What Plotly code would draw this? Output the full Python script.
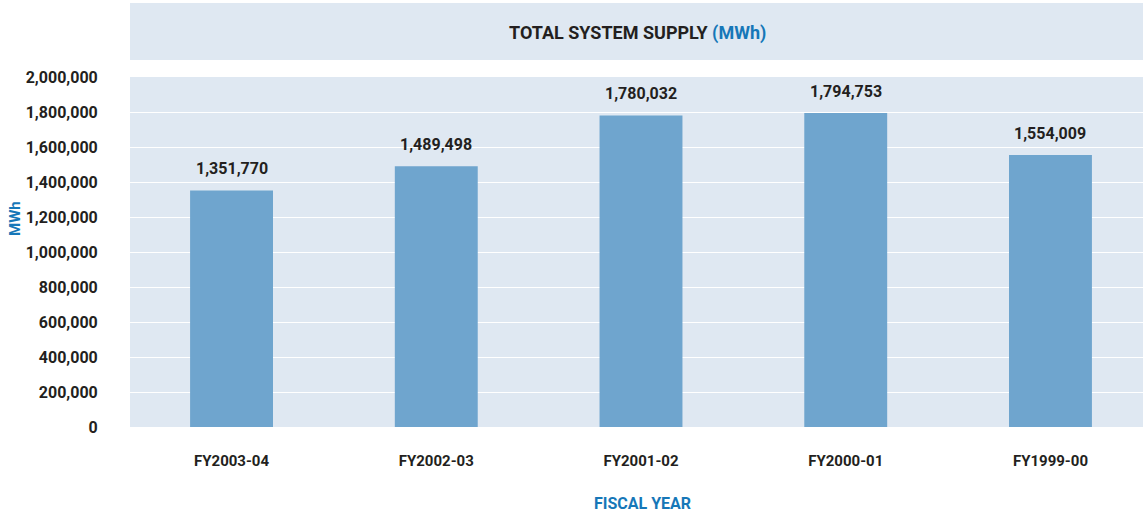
import plotly.graph_objects as go

categories = ["FY2003-04", "FY2002-03", "FY2001-02", "FY2000-01", "FY1999-00"]
supply_mwh = [1351770, 1489498, 1780032, 1794753, 1554009]
y_ticks = [0, 200000, 400000, 600000, 800000, 1000000, 1200000, 1400000, 1600000, 1800000, 2000000]
y_tick_labels = ["0", "200,000", "400,000", "600,000", "800,000", "1,000,000",
                 "1,200,000", "1,400,000", "1,600,000", "1,800,000", "2,000,000"]

FONT = "Roboto, Liberation Sans, sans-serif"
DARK = "#231f20"
BLUE = "#1677b8"
BAND = "#dfe8f2"
BAR = "#6fa5ce"

fig = go.Figure()
fig.add_trace(go.Bar(
    x=categories, y=supply_mwh, marker=dict(color=BAR, line=dict(width=0)),
    hoverinfo="x+y",
))

for c, v in zip(categories, supply_mwh):
    fig.add_annotation(x=c, y=v, text=f"<b>{v:,}</b>", showarrow=False, yanchor="bottom",
                       yshift=10, font=dict(family=FONT, size=16, color=DARK))

# title band
fig.add_shape(type="rect", xref="paper", yref="paper", x0=0, x1=1,
              y0=(427 - 60) / 350, y1=(427 - 3) / 350, fillcolor=BAND, line=dict(width=0), layer="below")
fig.add_annotation(xref="paper", yref="paper", x=(637 - 130) / 1013, y=(427 - 33) / 350, showarrow=False,
                   xanchor="center", yanchor="middle",
                   text=f"<b>TOTAL SYSTEM SUPPLY <span style='color:{BLUE}'>(MWh)</span></b>",
                   font=dict(family=FONT, size=18, color=DARK))
# axis titles
fig.add_annotation(xref="paper", yref="paper", x=(642 - 130) / 1013, y=(427 - 503) / 350, showarrow=False,
                   xanchor="center", yanchor="middle",
                   text="<b>FISCAL YEAR</b>", font=dict(family=FONT, size=16, color=BLUE))
fig.add_annotation(xref="paper", yref="paper", x=(15 - 130) / 1013, y=(427 - 219) / 350,
                   showarrow=False, textangle=-90, xanchor="center", yanchor="middle",
                   text="<b>MWh</b>", font=dict(family=FONT, size=15, color=BLUE))

fig.update_layout(
    width=1143, height=516,
    margin=dict(l=130, r=0, t=77, b=89),
    paper_bgcolor="white", plot_bgcolor=BAND,
    bargap=0.595, showlegend=False,
    font=dict(family=FONT, color=DARK),
    xaxis=dict(range=[-0.496, 4.452], showgrid=False, zeroline=False, showline=False,
               ticks="outside", ticklen=20, tickcolor="rgba(0,0,0,0)",
               tickfont=dict(family=FONT, size=15, color=DARK), tickprefix="<b>", ticksuffix="</b>"),
    yaxis=dict(range=[0, 2000000], tickvals=y_ticks, ticktext=[f"<b>{t}</b>" for t in y_tick_labels],
               showgrid=True, gridcolor="white", gridwidth=1, zeroline=False, showline=False,
               ticks="outside", ticklen=28, tickcolor="rgba(0,0,0,0)",
               tickfont=dict(family=FONT, size=16, color=DARK)),
)

fig.write_html("out.html", config={"displayModeBar": False},
               post_script="document.body.style.margin='0';")
